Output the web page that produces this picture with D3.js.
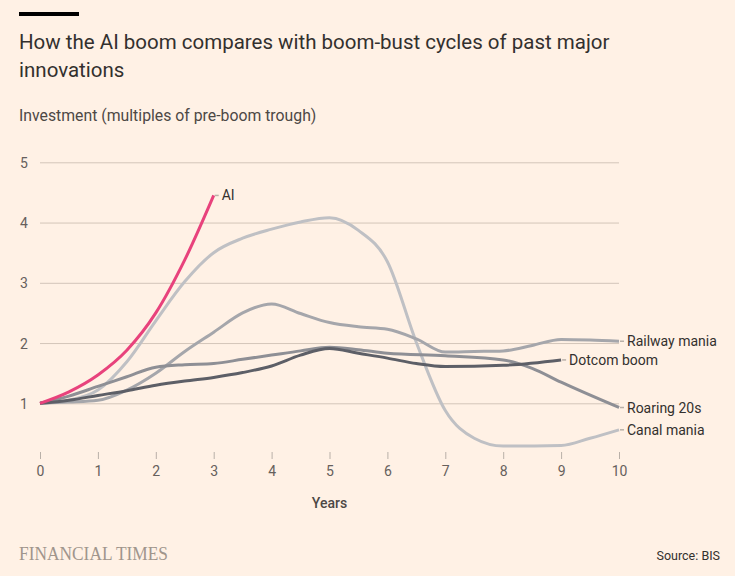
<!DOCTYPE html>
<html>
<head>
<meta charset="utf-8">
<script src="https://cdn.jsdelivr.net/npm/d3@7"></script>
<style>
  html, body { margin: 0; padding: 0; background: #fff1e5; }
  svg { display: block; font-family: Roboto, "Open Sans", sans-serif; }
</style>
</head>
<body>
<div id="chart"></div>
<script>
// values, multiples of pre-boom trough
var xTicks = [0, 1, 2, 3, 4, 5, 6, 7, 8, 9, 10];
var yTicks = [1, 2, 3, 4, 5];

var aiYears  = [0, 0.5, 1, 1.5, 2, 2.5, 3];
var aiValues = [1, 1.19, 1.47, 1.88, 2.5, 3.38, 4.45];

var canalYears  = [0, 0.5, 1, 1.5, 2, 2.5, 3, 3.5, 4, 4.5, 5, 5.5, 6, 6.5, 7, 7.5, 8, 9, 9.5, 10];
var canalValues = [1, 1.05, 1.22, 1.69, 2.37, 3.02, 3.5, 3.74, 3.89, 4.01, 4.08, 3.87, 3.35, 2.01, 0.88, 0.42, 0.29, 0.3, 0.42, 0.56];

var railYears  = [0, 0.5, 1, 1.5, 2, 2.5, 3, 3.5, 4, 4.5, 5, 5.5, 6, 6.5, 7, 7.5, 8, 8.5, 9, 9.5, 10];
var railValues = [1, 1.02, 1.05, 1.22, 1.5, 1.86, 2.18, 2.5, 2.65, 2.49, 2.34, 2.27, 2.23, 2.07, 1.85, 1.86, 1.87, 1.96, 2.06, 2.05, 2.03];

var roarYears  = [0, 0.5, 1, 1.5, 2, 2.5, 3, 3.5, 4, 4.5, 5, 5.5, 6, 7, 8, 8.5, 9, 10];
var roarValues = [1, 1.12, 1.28, 1.44, 1.6, 1.64, 1.66, 1.73, 1.8, 1.87, 1.93, 1.89, 1.83, 1.79, 1.72, 1.58, 1.35, 0.93];

var dotcomYears  = [0, 0.5, 1, 1.5, 2, 2.5, 3, 3.5, 4, 4.5, 5, 5.5, 6, 6.5, 7, 8, 9];
var dotcomValues = [1, 1.05, 1.13, 1.21, 1.3, 1.37, 1.43, 1.51, 1.62, 1.8, 1.91, 1.83, 1.75, 1.66, 1.61, 1.63, 1.72];

var seriesNames = ["Canal mania", "Railway mania", "Roaring 20s", "Dotcom boom", "AI"];
var seriesYears = [canalYears, railYears, roarYears, dotcomYears, aiYears];
var seriesValues = [canalValues, railValues, roarValues, dotcomValues, aiValues];
var seriesColors = ["#bfc0c4", "#a5a6ab", "#8e8f95", "#5d5f67", "#e8427c"];

var width = 735, height = 576;

var svg = d3.select("#chart")
    .append("svg")
    .attr("width", width)
    .attr("height", height)

svg.append("rect")
    .attr("width", width)
    .attr("height", height)
    .style("fill", "#fff1e5")

// top bar + headings
svg.append("rect")
    .attr("x", 19).attr("y", 12)
    .attr("width", 60).attr("height", 4)
    .style("fill", "#000")

svg.append("text")
    .attr("x", 19).attr("y", 49)
    .style("font-size", "20.5px").style("fill", "#33302e")
    .text("How the AI boom compares with boom-bust cycles of past major")
svg.append("text")
    .attr("x", 19).attr("y", 77)
    .style("font-size", "20.5px").style("fill", "#33302e")
    .text("innovations")

svg.append("text")
    .attr("x", 19).attr("y", 121)
    .style("font-size", "15.8px").style("fill", "#4d4845")
    .text("Investment (multiples of pre-boom trough)")

var x = d3.scaleLinear().domain([0, 10]).range([40, 619]);
var y = d3.scaleLinear().domain([1, 5]).range([403.3, 162.3]);

// y grid + labels
var yAxis = svg.append("g")
    .attr("transform", "translate(40,0)")
    .call(d3.axisLeft(y).tickValues(yTicks).tickSize(-(619 - 40)).tickFormat(d3.format("d")))
yAxis.select(".domain").remove();
yAxis.selectAll(".tick line").style("stroke", "#d3c5b9");
yAxis.selectAll(".tick text")
    .attr("x", -20)
    .attr("dy", "0.36em")
    .style("text-anchor", "start")
    .style("font-size", "14px")
    .style("font-family", "Roboto, sans-serif")
    .style("fill", "#66605c");

// x ticks below plot
var xAxis = svg.append("g")
    .attr("transform", "translate(0,452)")
    .call(d3.axisBottom(x).tickValues(xTicks).tickSize(7).tickPadding(7))
xAxis.select(".domain").remove();
xAxis.selectAll(".tick line").style("stroke", "#b9b0a8");
xAxis.selectAll(".tick text")
    .style("font-size", "14px")
    .style("font-family", "Roboto, sans-serif")
    .style("fill", "#66605c");

svg.append("text")
    .attr("x", x(5)).attr("y", 508)
    .style("text-anchor", "middle")
    .style("font-size", "14px").style("font-weight", "500")
    .style("fill", "#4d4845")
    .text("Years")

var line = d3.line()
    .x(function(d){ return x(d[0]); })
    .y(function(d){ return y(d[1]); })
    .curve(d3.curveMonotoneX);

for (var i = 0; i < seriesNames.length; i++){
    var pts = seriesYears[i].map(function(t, j){ return [t, seriesValues[i][j]]; });
    svg.append("path")
        .datum(pts)
        .attr("d", line)
        .style("fill", "none")
        .style("stroke", seriesColors[i])
        .style("stroke-width", 3)
        .style("stroke-linejoin", "round")

    var last = pts[pts.length - 1];
    var ex = x(last[0]), ey = y(last[1]);
    svg.append("line")
        .attr("x1", ex + 1).attr("x2", ex + 5)
        .attr("y1", ey).attr("y2", ey)
        .style("stroke", "#b9b0a8")
        .style("stroke-width", 1.5)
    svg.append("text")
        .attr("x", ex + 8).attr("y", ey)
        .attr("dy", "0.36em")
        .style("font-size", "14px")
        .style("fill", "#33302e")
        .text(seriesNames[i])
}

// footer
svg.append("text")
    .attr("x", 19).attr("y", 560)
    .attr("textLength", 149).attr("lengthAdjust", "spacingAndGlyphs")
    .style("font-family", "'Liberation Serif', 'DejaVu Serif', serif")
    .style("font-size", "18px")
    .style("fill", "#a0958c")
    .text("FINANCIAL TIMES")

svg.append("text")
    .attr("x", 720).attr("y", 560)
    .style("text-anchor", "end")
    .style("font-size", "12.5px")
    .style("fill", "#33302e")
    .text("Source: BIS")
</script>
</body>
</html>
